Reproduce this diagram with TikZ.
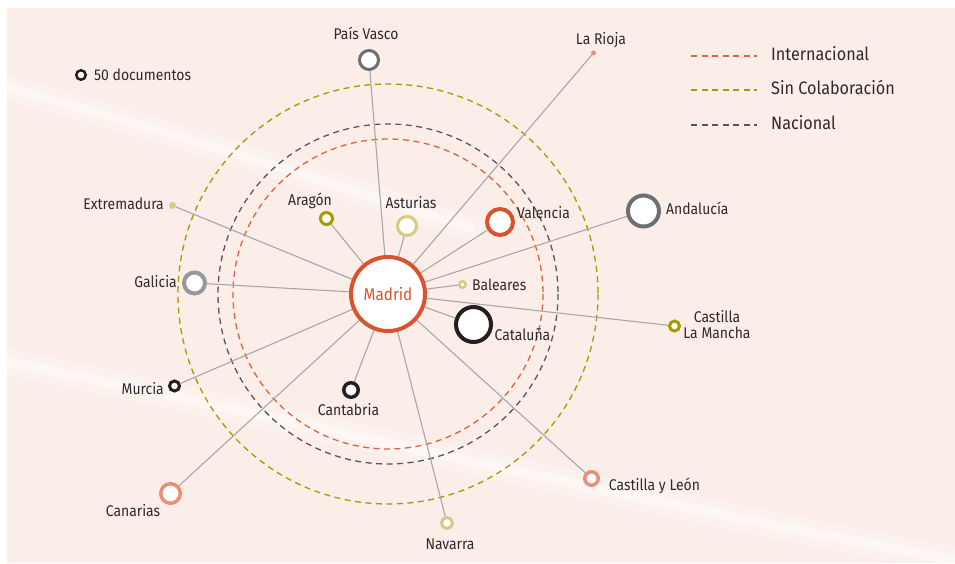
\documentclass[tikz,border=0pt]{standalone}
\usepackage{fontspec}
\setmainfont[FakeStretch=0.9]{Fira Sans}
\usetikzlibrary{positioning, backgrounds}

\definecolor{paper}{HTML}{FBEEE8}
\definecolor{madridred}{HTML}{D9532F}
\definecolor{intred}{HTML}{E2603F}
\definecolor{olivec}{HTML}{A39B00}
\definecolor{natgray}{HTML}{58585A}
\definecolor{khaki}{HTML}{D3CC86}
\definecolor{salmon}{HTML}{E88F77}
\definecolor{midgray}{HTML}{6E6F72}
\definecolor{softgray}{HTML}{97989C}
\definecolor{inkblack}{HTML}{231F20}
\definecolor{linkgray}{HTML}{A5A7AA}
\definecolor{txt}{HTML}{2E2A2B}

\tikzstyle{link}=[draw=linkgray, line width=1.1pt]

\begin{document}
\begin{tikzpicture}[x=1pt, y=-1pt,
  region/.style={circle, fill=white, inner sep=0pt, line width=3pt},
  dot/.style={circle, inner sep=0pt, draw=none},
  tag/.style={inner sep=0pt, text=txt, text height=1.12em, text depth=0.04em,
              font=\fontsize{15.5}{16}\selectfont},
  legendtag/.style={tag, anchor=west, font=\fontsize{18}{19}\selectfont},
  ring/.style={line width=1.3pt, dash pattern=on 6pt off 4.5pt},
  band/.style={white, line cap=round}
]
\useasboundingbox (0,0) rectangle (955,564);

% centre
\node[region, draw=madridred, line width=4pt, minimum size=74pt,
      text=madridred, font=\fontsize{17}{18}\selectfont] (madrid) at (388,294) {Madrid};

% regions
\node[region, draw=midgray, minimum size=19pt] (pvasco) at (369,60) {};
\node[dot, fill=salmon, minimum size=5pt] (rioja) at (593.5,53) {};
\node[dot, fill=khaki, minimum size=7pt] (extrem) at (172.5,205.5) {};
\node[region, draw=olivec, minimum size=12pt] (aragon) at (326.5,218.5) {};
\node[region, draw=khaki, minimum size=19pt] (astur) at (407,226) {};
\node[region, draw=madridred, line width=4pt, minimum size=26pt] (valen) at (500,222) {};
\node[region, draw=midgray, line width=4pt, minimum size=31pt] (andal) at (643.5,211) {};
\node[region, draw=softgray, line width=4pt, minimum size=21pt] (galic) at (194.5,283) {};
\node[region, draw=khaki, line width=2.5pt, minimum size=6.5pt] (balea) at (462.5,284.5) {};
\node[region, draw=inkblack, line width=4pt, minimum size=35pt] (catal) at (473.5,324.5) {};
\node[region, draw=olivec, minimum size=10pt] (clm) at (674.5,326) {};
\node[region, draw=inkblack, minimum size=10pt] (murcia) at (174.5,386) {};
\node[region, draw=inkblack, line width=3.5pt, minimum size=14.5pt] (cantab) at (351,390) {};
\node[region, draw=salmon, line width=3.5pt, minimum size=19.5pt] (canar) at (170.5,493.5) {};
\node[region, draw=khaki, minimum size=11pt] (navar) at (447,523) {};
\node[region, draw=salmon, line width=3.5pt, minimum size=13.5pt] (cyl) at (591.5,478.5) {};

% labels
\node[tag] (pvascolbl) at (366,34) {País Vasco};
\node[tag] (riojalbl) at (601,39) {La Rioja};
\node[tag, anchor=east] (extremlbl) at (164,204) {Extremadura};
\node[tag] (aragonlbl) at (310,200) {Aragón};
\node[tag] (asturlbl) at (411,203) {Asturias};
\node[tag, anchor=west] (valenlbl) at (517,213) {Valencia};
\node[tag, anchor=west] (andallbl) at (666,209) {Andalucía};
\node[tag, anchor=east] (galiclbl) at (177,282) {Galicia};
\node[tag, anchor=west] (balealbl) at (472,285) {Baleares};
\node[tag] (catallbl) at (522.5,335) {Cataluña};
\node[tag, align=center] (clmlbl) at (717,333) {Castilla\\[0pt]La Mancha};
\node[tag, anchor=east] (murcialbl) at (164,389) {Murcia};
\node[tag] (cantablbl) at (348.5,410) {Cantabria};
\node[tag] (canarlbl) at (133,511) {Canarias};
\node[tag] (navarlbl) at (450,544) {Navarra};
\node[tag] (cyllbl) at (654.5,485) {Castilla y León};

% size key and legend
\node[region, draw=inkblack, line width=2.5pt, minimum size=9.5pt] (key) at (81,75) {};
\node[tag, anchor=west] (keylbl) at (94,75) {50 documentos};
\node[legendtag] (intlbl) at (771,55) {Internacional};
\node[legendtag] (sinlbl) at (771,89) {Sin Colaboración};
\node[legendtag] (natlbl) at (771,124) {Nacional};
\coordinate (inta) at (691,56);  \coordinate (intb) at (757,56);
\coordinate (sina) at (691,90);  \coordinate (sinb) at (757,90);
\coordinate (nata) at (691,125); \coordinate (natb) at (757,125);

\begin{scope}[on background layer]
  \fill[paper] (7,8) rectangle (955,563);
  % soft light streaks
  \draw[band, opacity=0.25, line width=24pt] (7,88) .. controls (200,140) and (350,190) .. (470,228);
  \draw[band, opacity=0.45, line width=9pt] (7,88) .. controls (200,140) and (350,190) .. (470,228);
  \draw[band, opacity=0.25, line width=26pt] (7,362) .. controls (300,420) and (600,495) .. (955,560);
  \draw[band, opacity=0.45, line width=10pt] (7,362) .. controls (300,420) and (600,495) .. (955,560);

  \draw[ring, olivec] (madrid.center) circle[radius=210];
  \draw[ring, natgray] (madrid.center) circle[radius=170];
  \draw[ring, intred] (madrid.center) circle[radius=155];

  \draw[ring, intred] (inta) -- (intb);
  \draw[ring, olivec] (sina) -- (sinb);
  \draw[ring, natgray] (nata) -- (natb);

  \draw[link] (madrid) -- (pvasco);
  \draw[link] (madrid) -- (rioja);
  \draw[link] (madrid) -- (extrem);
  \draw[link] (madrid) -- (aragon);
  \draw[link] (madrid) -- (astur);
  \draw[link] (madrid) -- (valen);
  \draw[link] (madrid) -- (andal);
  \draw[link] (madrid) -- (galic);
  \draw[link] (madrid) -- (balea);
  \draw[link] (madrid) -- (catal);
  \draw[link] (madrid) -- (clm);
  \draw[link] (madrid) -- (murcia);
  \draw[link] (madrid) -- (cantab);
  \draw[link] (madrid) -- (canar);
  \draw[link] (madrid) -- (navar);
  \draw[link] (madrid) -- (cyl);
\end{scope}
\end{tikzpicture}
\end{document}
